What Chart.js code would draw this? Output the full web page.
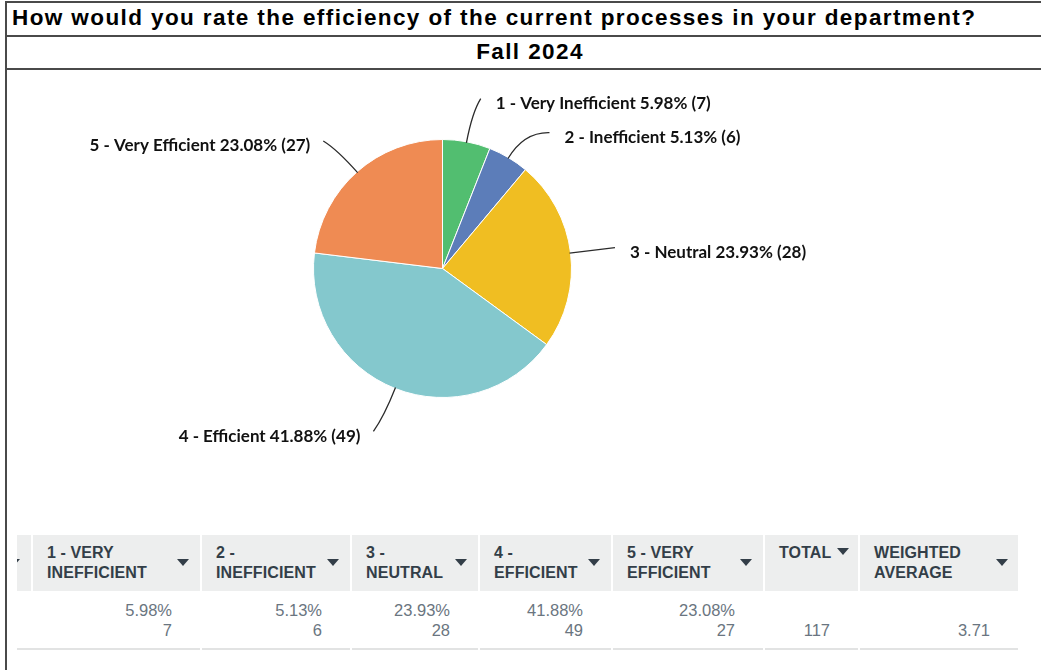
<!DOCTYPE html>
<html>
<head>
<meta charset="utf-8">
<script src="https://cdn.jsdelivr.net/npm/chart.js@4.4.1/dist/chart.umd.min.js"></script>
<style>
  html, body { margin: 0; padding: 0; background: #fff; }
  body { width: 1041px; height: 670px; position: relative; overflow: hidden; font-family: "Liberation Sans", Arial, sans-serif; }
  .rule { position: absolute; left: 5px; right: 0; height: 2px; background: #4a4a4a; }
  .vrule { position: absolute; left: 5px; top: 1px; bottom: 0; width: 2px; background: #4a4a4a; }
  #title { position: absolute; left: 12px; top: 5px; font-weight: bold; font-size: 22.5px; line-height: 26px; letter-spacing: 1.4px; color: #000; white-space: nowrap; }
  #subtitle { position: absolute; left: 5px; right: 0; top: 39px; text-align: center; font-weight: bold; font-size: 22.5px; line-height: 26px; letter-spacing: 1.4px; color: #000; padding-left: 14px; }
  #chartBox { position: absolute; left: 7px; top: 71px; width: 1030px; height: 449px; }
  .cell { position: absolute; overflow: hidden; box-sizing: border-box; }
  .head { background: #edeeee; top: 535px; height: 56px; color: #333e48; font-weight: bold; font-size: 16px; line-height: 19.5px; padding: 8px 0 0 14px; letter-spacing: 0.1px; }
  .body { top: 591px; height: 59px; border-bottom: 2px solid #e2e3e3; color: #6a7580; font-size: 16.5px; line-height: 19.5px; text-align: right; padding: 10px 28px 0 0; }
  .caret { position: absolute; width: 0; height: 0; border-left: 6px solid transparent; border-right: 6px solid transparent; border-top: 7px solid #333e48; }
</style>
</head>
<body>
<div class="rule" style="top:1px"></div>
<div class="rule" style="top:35px"></div>
<div class="rule" style="top:68px"></div>
<div class="vrule"></div>
<div id="title"></div>
<div id="subtitle"></div>
<div id="chartBox"><canvas id="pie"></canvas></div>
<div id="table"></div>
<script>
// Survey question and term
const questionText = 'How would you rate the efficiency of the current processes in your department?';
const termLabel = 'Fall 2024';

// Answer choices and responses
const categories = ['1 - Very Inefficient', '2 - Inefficient', '3 - Neutral', '4 - Efficient', '5 - Very Efficient'];
const responseCounts = [7, 6, 28, 49, 27];
const responsePercents = ['5.98%', '5.13%', '23.93%', '41.88%', '23.08%'];
const sliceColors = ['#52be70', '#5c7db9', '#f0be22', '#84c8cd', '#ef8b53'];

// Summary table
const tableHeaders = [['1 - VERY', 'INEFFICIENT'], ['2 -', 'INEFFICIENT'], ['3 -', 'NEUTRAL'], ['4 -', 'EFFICIENT'], ['5 - VERY', 'EFFICIENT']];
const totalLabel = 'TOTAL';
const averageHeader = ['WEIGHTED', 'AVERAGE'];
const totalResponses = '117';
const weightedAverage = '3.71';

document.getElementById('title').textContent = questionText;
document.getElementById('subtitle').textContent = termLabel;

// ---- table layout (column edges in px) ----
const colEdges = [17, 31, 200, 350, 478, 611, 763, 858, 1018];
const table = document.getElementById('table');
function addCell(cls, i, html) {
  const left = colEdges[i] + (i === 0 ? 0 : 2);
  const width = colEdges[i + 1] - left;
  const d = document.createElement('div');
  d.className = 'cell ' + cls;
  d.style.left = left + 'px';
  d.style.width = width + 'px';
  d.innerHTML = html;
  table.appendChild(d);
  return d;
}
function caret(cell, right, top) {
  const c = document.createElement('div');
  c.className = 'caret';
  if (right !== null) c.style.right = right + 'px';
  c.style.top = top + 'px';
  cell.appendChild(c);
  return c;
}
// partially scrolled-off first column
const first = addCell('head', 0, '');
first.style.padding = '0';
const fc = caret(first, null, 24); fc.style.left = '-9px';
addCell('body', 0, '');

tableHeaders.forEach((h, k) => {
  const hc = addCell('head', k + 1, h[0] + '<br>' + h[1]);
  caret(hc, 11, 24);
  addCell('body', k + 1, responsePercents[k] + '<br>' + responseCounts[k]);
});
const th = addCell('head', 6, totalLabel);
const tc = caret(th, null, 13); tc.style.left = '72px';
addCell('body', 6, '&nbsp;<br>' + totalResponses);
const wh = addCell('head', 7, averageHeader[0] + '<br>' + averageHeader[1]);
caret(wh, 10, 24);
addCell('body', 7, '&nbsp;<br>' + weightedAverage);

// ---- pie with curved leader labels ----
const leaderLabels = {
  id: 'leaderLabels',
  afterDatasetsDraw(chart) {
    const ctx = chart.ctx;
    const meta = chart.getDatasetMeta(0);
    const items = meta.data.map((arc, i) => {
      const p = arc.getProps(['x', 'y', 'startAngle', 'endAngle', 'outerRadius'], true);
      const mid = (p.startAngle + p.endAngle) / 2;
      const R = p.outerRadius + 44;
      return { i, p, mid, R, right: Math.cos(mid) >= 0, ey: p.y + Math.sin(mid) * R, moved: false };
    });
    // keep labels on the same side at least a line-and-a-half apart
    const minGap = 34;
    [true, false].forEach(side => {
      const group = items.filter(o => o.right === side).sort((a, b) => a.ey - b.ey);
      for (let k = 1; k < group.length; k++) {
        if (group[k].ey - group[k - 1].ey < minGap) {
          group[k].ey = group[k - 1].ey + minGap;
          group[k].moved = true;
        }
      }
    });
    ctx.save();
    ctx.font = 'bold 17px "Lato", "Noto Sans", sans-serif';
    ctx.textBaseline = 'middle';
    items.forEach(o => {
      const { p, mid, R, right } = o;
      const cos = Math.cos(mid), sin = Math.sin(mid);
      const r = p.outerRadius;
      const dy = o.ey - p.y;
      const dx = Math.sqrt(Math.max(R * R - dy * dy, 0));
      const bend = o.moved ? 0 : 6 * Math.abs(sin);
      const ex = p.x + (right ? dx + bend : -dx - bend);
      const ey = o.ey + (right ? 0 : 2);
      const sx = p.x + cos * (r - 1), sy = p.y + sin * (r - 1);
      const cx = p.x + cos * (r + 30), cy = p.y + sin * (r + 30);
      ctx.strokeStyle = '#2b2b2b';
      ctx.lineWidth = 1.3;
      ctx.beginPath();
      ctx.moveTo(sx, sy);
      ctx.quadraticCurveTo(cx, cy, ex, ey);
      ctx.stroke();
      const label = categories[o.i] + ' ' + responsePercents[o.i] + ' (' + responseCounts[o.i] + ')';
      ctx.fillStyle = '#111';
      ctx.textAlign = right ? 'left' : 'right';
      ctx.fillText(label, ex + (right ? 15 : -13), ey + 5);
    });
    ctx.restore();
  }
};

new Chart(document.getElementById('pie'), {
  type: 'pie',
  data: {
    labels: categories,
    datasets: [{
      data: responseCounts,
      backgroundColor: sliceColors,
      borderColor: '#ffffff',
      borderWidth: 1
    }]
  },
  options: {
    responsive: true,
    maintainAspectRatio: false,
    animation: false,
    layout: { padding: { top: 68, bottom: 122, left: 306, right: 465 } },
    plugins: { legend: { display: false }, tooltip: { enabled: false } }
  },
  plugins: [leaderLabels]
});
</script>
</body>
</html>
